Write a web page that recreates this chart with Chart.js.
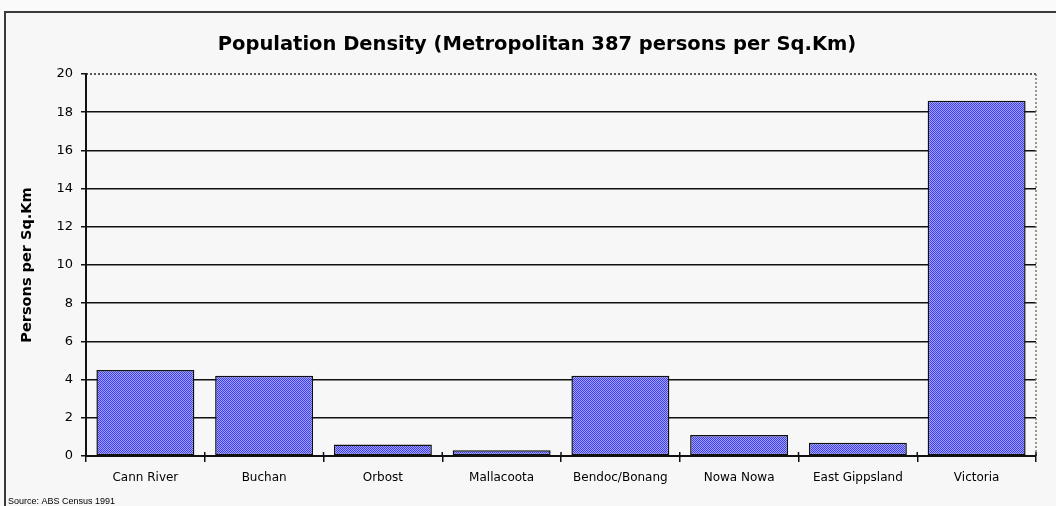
<!DOCTYPE html>
<html>
<head>
<meta charset="utf-8">
<script src="https://cdn.jsdelivr.net/npm/chart.js@4/dist/chart.umd.min.js"></script>
<style>
  html, body { margin: 0; padding: 0; background: #fafafa; }
  canvas { display: block; }
</style>
</head>
<body>
<canvas id="chart" width="1056" height="506"></canvas>
<script>
// data
const regions = ['Cann River', 'Buchan', 'Orbost', 'Mallacoota', 'Bendoc/Bonang', 'Nowa Nowa', 'East Gippsland', 'Victoria'];
const density = [4.5, 4.2, 0.6, 0.3, 4.2, 1.1, 0.7, 18.6];
const chartTitle = 'Population Density (Metropolitan 387 persons per Sq.Km)';
const yTitle = 'Persons per Sq.Km';
const sourceNote = 'Source: ABS Census 1991';

// checkered blue fill like the old mac pattern
function makePattern() {
    const c = document.createElement('canvas');
    c.width = 2;
    c.height = 2;
    const g = c.getContext('2d');
    g.fillStyle = '#a4a4ff';
    g.fillRect(0, 0, 2, 2);
    g.fillStyle = '#3c3cf0';
    g.fillRect(0, 0, 1, 1);
    g.fillRect(1, 1, 1, 1);
    return g.createPattern(c, 'repeat');
}

const ctx = document.getElementById('chart').getContext('2d');

const framePlugin = {
    id: 'frame',
    beforeDraw(chart) {
        const g = chart.ctx;
        g.save();
        g.fillStyle = '#f7f7f7';
        g.fillRect(5, 11, chart.width, chart.height);
        g.strokeStyle = '#3a3a3a';
        g.lineWidth = 2;
        g.beginPath();
        g.moveTo(5, chart.height);
        g.lineTo(5, 12);
        g.lineTo(chart.width, 12);
        g.stroke();

        g.fillStyle = '#000';
        g.font = 'bold 19.5px "DejaVu Sans"';
        g.textAlign = 'center';
        g.textBaseline = 'middle';
        g.fillText(chartTitle, 537, 45);

        g.font = '9px "Liberation Sans"';
        g.textAlign = 'left';
        g.fillText(sourceNote, 8, 502);
        g.restore();
    },
    beforeDatasetsDraw(chart) {
        const a = chart.chartArea;
        const g = chart.ctx;
        g.save();
        g.lineWidth = 1.5;
        g.setLineDash([2, 2]);
        g.strokeStyle = '#222';
        g.beginPath();
        g.moveTo(a.left, a.top);
        g.lineTo(a.right, a.top);
        g.stroke();
        g.strokeStyle = '#777';
        g.beginPath();
        g.moveTo(a.right, a.top);
        g.lineTo(a.right, a.bottom);
        g.stroke();
        g.setLineDash([]);

        // short category ticks poke up above the baseline too
        const xs = chart.scales.x;
        g.strokeStyle = '#111';
        g.beginPath();
        for (let i = 0; i <= regions.length; i++) {
            const px = xs.getPixelForValue(i - 0.5);
            g.moveTo(px, a.bottom - 4);
            g.lineTo(px, a.bottom);
        }
        g.stroke();
        g.restore();
    }
};

new Chart(ctx, {
    type: 'bar',
    data: {
        labels: regions,
        datasets: [{
            label: yTitle,
            data: density,
            backgroundColor: makePattern(),
            borderColor: '#111',
            borderWidth: 1.5,
            borderSkipped: false,
            categoryPercentage: 1,
            barPercentage: 0.825
        }]
    },
    options: {
        responsive: false,
        animation: false,
        layout: {
            padding: { top: 74, right: 20, bottom: 0, left: 0 }
        },
        plugins: {
            legend: { display: false },
            tooltip: { enabled: false }
        },
        scales: {
            x: {
                afterFit(scale) { scale.height = 50; },
                grid: {
                    offset: true,
                    drawOnChartArea: false,
                    drawTicks: true,
                    tickLength: 6,
                    color: '#111',
                    lineWidth: 1.5
                },
                border: { display: true, color: '#111', width: 2 },
                ticks: {
                    color: '#000',
                    font: { family: 'DejaVu Sans', size: 12 },
                    padding: 9,
                    maxRotation: 0,
                    autoSkip: false
                }
            },
            y: {
                min: 0,
                max: 20,
                afterFit(scale) { scale.width = 86; },
                grid: {
                    color: function(c) {
                        return c.tick && c.tick.value === 20 ? 'rgba(0,0,0,0)' : '#111';
                    },
                    lineWidth: 1.5,
                    tickColor: '#111',
                    tickLength: 5
                },
                border: { display: true, color: '#111', width: 2 },
                ticks: {
                    stepSize: 2,
                    color: '#000',
                    font: { family: 'DejaVu Sans', size: 13 },
                    padding: 8
                },
                title: {
                    display: true,
                    text: yTitle,
                    color: '#000',
                    font: { family: 'DejaVu Sans', size: 14.5, weight: 'bold' },
                    padding: { top: 19, bottom: 0 }
                }
            }
        }
    },
    plugins: [framePlugin]
});
</script>
</body>
</html>
